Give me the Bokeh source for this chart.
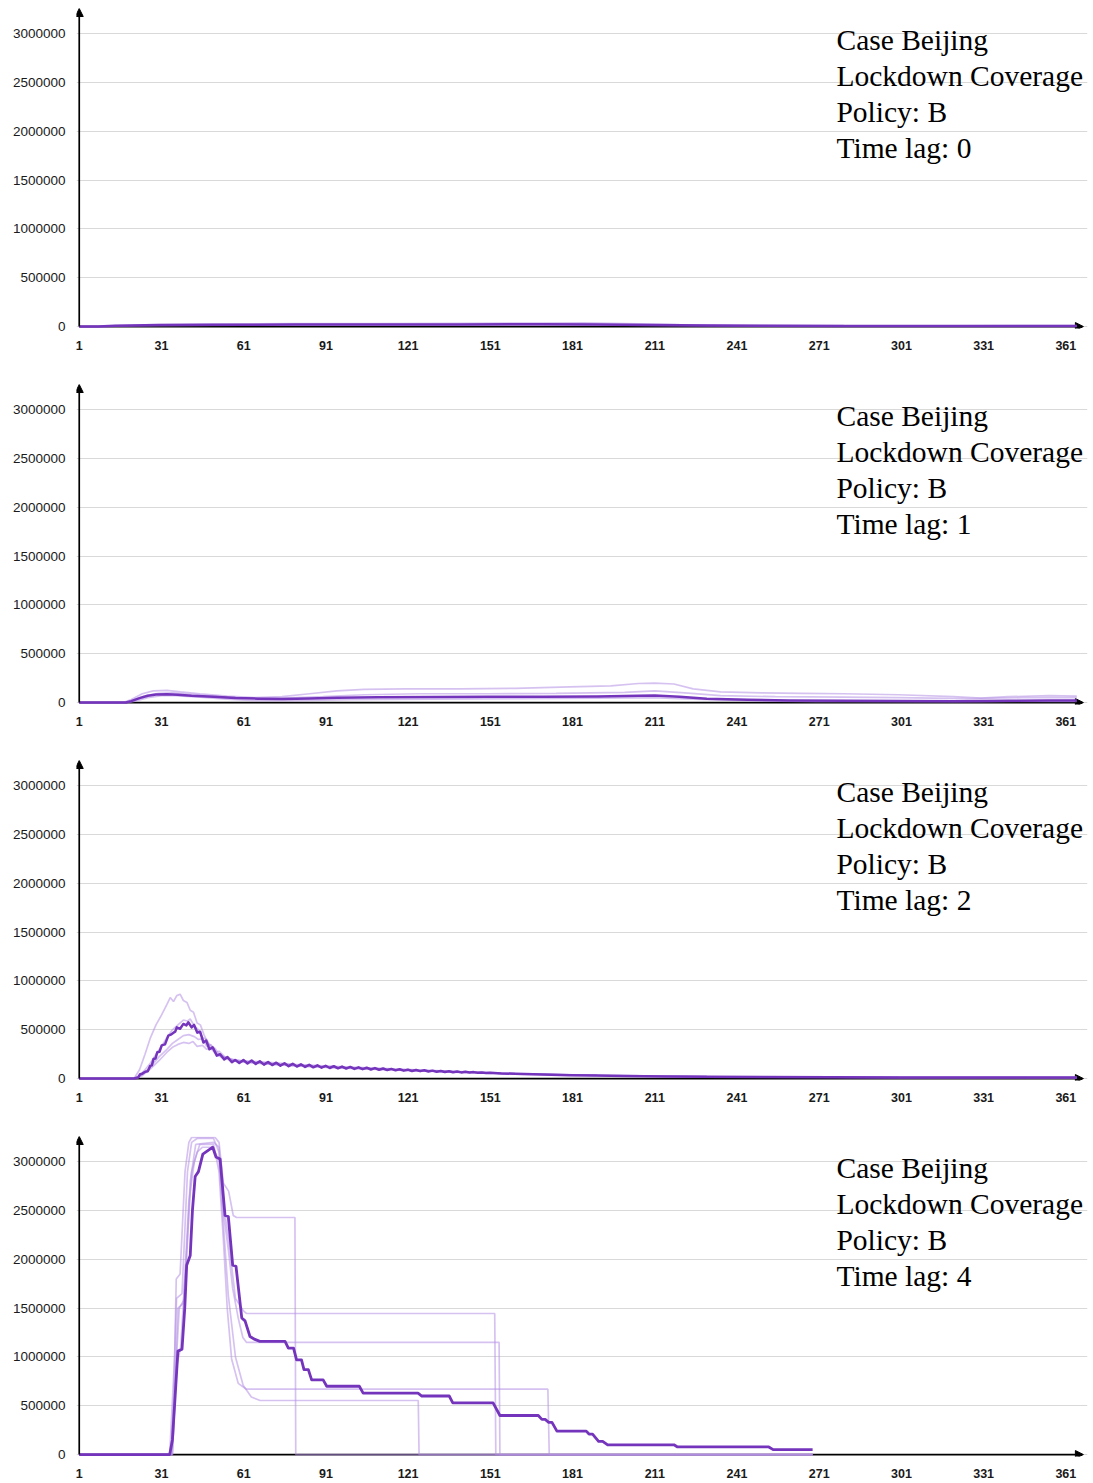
from bokeh.plotting import figure
from bokeh.layouts import column
from bokeh.models import Range1d, FixedTicker, BasicTickFormatter, Arrow, NormalHead, Label
from bokeh.embed import file_html
from bokeh.resources import INLINE

# ---------------- data ----------------
X_TICKS = [1, 31, 61, 91, 121, 151, 181, 211, 241, 271, 301, 331, 361]
Y_TICKS = [0, 500000, 1000000, 1500000, 2000000, 2500000, 3000000]
LABEL_LINES = ["Case Beijing", "Lockdown Coverage", "Policy: B"]
TIME_LAGS = [0, 1, 2, 4]

# Panel 1 (time lag 0)
p1_mean_day = [1, 8, 14, 20, 30, 50, 80, 110, 140, 170, 190, 210, 230, 250, 280, 320, 365]
p1_mean_val = [0, 0, 8000, 12000, 15000, 18000, 20000, 20000, 22000, 24000, 22000, 16000, 10000, 7000, 5000, 5000, 5000]
p1_run1_day = [1, 8, 15, 25, 50, 80, 110, 140, 170, 185, 200, 220, 245, 280, 320, 365]
p1_run1_val = [0, 0, 10000, 18000, 24000, 30000, 30000, 32000, 36000, 38000, 30000, 20000, 12000, 9000, 8000, 9000]
p1_run2_day = [1, 9, 16, 30, 60, 100, 140, 180, 210, 240, 280, 320, 365]
p1_run2_val = [0, 0, 6000, 10000, 14000, 15000, 17000, 18000, 12000, 6000, 4000, 3000, 3000]

# Panel 2 (time lag 1)
p2_mean_day = [1, 18, 20, 23, 26, 29, 33, 37, 42, 50, 58, 66, 75, 85, 95, 110, 130, 150, 170, 190,
               205, 211, 220, 230, 245, 260, 280, 300, 320, 340, 355, 365]
p2_mean_val = [0, 0, 15000, 45000, 70000, 82000, 85000, 80000, 70000, 60000, 47000, 40000, 37000, 42000,
               48000, 55000, 58000, 60000, 60000, 63000, 70000, 72000, 60000, 40000, 28000, 22000, 18000,
               15000, 14000, 18000, 22000, 20000]
p2_run1_day = [1, 17, 20, 24, 28, 33, 38, 45, 55, 65, 75, 85, 95, 105, 120, 140, 160, 180, 195, 205,
               211, 218, 225, 235, 250, 265, 280, 300, 320, 330, 340, 355, 365]
p2_run1_val = [0, 0, 30000, 90000, 120000, 125000, 110000, 90000, 65000, 50000, 60000, 90000, 120000,
               135000, 140000, 140000, 145000, 160000, 170000, 195000, 200000, 190000, 140000, 110000,
               100000, 95000, 90000, 80000, 60000, 45000, 60000, 70000, 65000]
p2_run2_day = [1, 18, 21, 25, 30, 35, 42, 52, 62, 75, 90, 105, 125, 150, 175, 200, 211, 222, 235, 255,
               280, 300, 325, 345, 365]
p2_run2_val = [0, 0, 30000, 70000, 95000, 100000, 85000, 60000, 45000, 45000, 60000, 80000, 90000, 90000,
               95000, 105000, 120000, 100000, 70000, 60000, 55000, 50000, 40000, 50000, 50000]
p2_run3_day = [1, 19, 22, 26, 31, 36, 45, 55, 65, 80, 100, 130, 160, 190, 210, 225, 245, 270, 300, 330, 365]
p2_run3_val = [0, 0, 20000, 50000, 70000, 70000, 55000, 35000, 20000, 20000, 30000, 35000, 40000, 45000,
               50000, 35000, 20000, 10000, 8000, 10000, 12000]

# Panel 3 (time lag 2)
p3_mean_day = [1, 21, 22.5, 23.2, 24.0, 25.1, 26.0, 26.9, 27.5, 28.1, 28.8, 29.5, 30.3, 31.1, 32.3, 33.5,
               34.4, 35.4, 36.0, 36.6, 37.8, 39.0, 40.1, 40.8, 42.0, 42.9, 44.1, 45.1, 46.3, 47.3, 48.5,
               49.7, 51.2, 52.4, 53.9, 55.1, 56.7, 57.9,
               59.4, 60.9, 62.4, 63.9, 65.4, 66.9, 68.4, 69.9, 71.4, 72.9, 74.4, 75.9, 77.4, 78.9, 80.4,
               81.9, 83.4, 84.9, 86.4, 87.9, 89.4, 90.9, 92.4, 93.9, 95.4, 96.9, 98.4, 99.9, 101.4, 102.9,
               104.4, 105.9, 107.4, 108.9, 110.4, 111.9, 113.4, 114.9, 116.4, 117.9, 119.4, 120.9, 122.4,
               123.9, 125.4, 126.9, 128.4, 129.9, 131.4, 132.9, 134.4, 135.9, 137.4, 138.9, 140.4, 141.9,
               143.4, 144.9, 146.4, 147.9, 149.4, 150.9,
               155, 160, 170, 180, 190, 200, 215, 230, 250, 275, 300, 330, 365]
p3_mean_val = [0, 0, 10000, 45000, 50000, 70000, 75000, 130000, 135000, 200000, 205000, 270000, 275000,
               340000, 350000, 440000, 450000, 470000, 480000, 525000, 510000, 560000, 545000, 577000,
               525000, 550000, 470000, 480000, 370000, 390000, 300000, 320000, 235000, 250000, 195000,
               220000, 167000, 190000,
               160000, 190000, 155000, 185000, 150000, 178000, 143000, 170000, 138000, 163000, 132000,
               157000, 127000, 151000, 123000, 146000, 119000, 141000, 115000, 136000, 111000, 131000,
               108000, 127000, 105000, 123000, 102000, 119000, 99000, 115000, 96000, 111000, 93000, 107000,
               90000, 103000, 87000, 99000, 84000, 95000, 81000, 91000, 78000, 88000, 76000, 85000, 73000,
               81000, 70000, 78000, 68000, 75000, 65000, 72000, 63000, 69000, 61000, 66000, 59000, 63000,
               57000, 60000,
               53000, 48000, 41000, 35000, 30000, 26000, 21000, 18000, 16000, 14000, 12000, 11000, 10000]
p3_run1_day = [1, 21, 23, 25, 27, 29, 31, 33, 34.2, 35.4, 36.6, 37.8, 39, 40.3, 41.5, 42.7, 44, 45.2, 46.5,
               48, 49.5, 51, 53, 56, 60, 70, 80, 90, 100, 120, 140, 160, 190, 230, 300, 365]
p3_run1_val = [0, 0, 90000, 250000, 420000, 550000, 650000, 760000, 830000, 790000, 850000, 865000, 800000,
               780000, 700000, 680000, 570000, 550000, 450000, 360000, 330000, 260000, 230000, 200000,
               185000, 165000, 145000, 130000, 118000, 94000, 72000, 52000, 34000, 20000, 13000, 11000]
p3_run2_day = [1, 21, 23, 25, 27, 29, 31, 33, 35, 37, 39, 40.5, 41.5, 43, 44.5, 46, 47.5, 49, 50.5, 52, 54,
               57, 60, 70, 80, 90, 100, 120, 140, 160, 190, 230, 300, 365]
p3_run2_val = [0, 0, 30000, 90000, 160000, 250000, 330000, 420000, 500000, 550000, 600000, 590000, 610000,
               540000, 500000, 420000, 400000, 320000, 310000, 250000, 220000, 190000, 175000, 150000,
               132000, 118000, 107000, 86000, 67000, 49000, 31000, 19000, 12000, 10000]
p3_run3_day = [1, 21, 24, 27, 30, 33, 35, 37, 39, 41, 43, 44.5, 46, 47.5, 49, 50.5, 52, 54, 57, 60, 70, 80,
               90, 100, 120, 140, 160, 190, 230, 300, 365]
p3_run3_val = [0, 0, 40000, 120000, 220000, 300000, 360000, 400000, 440000, 450000, 430000, 400000, 410000,
               330000, 350000, 270000, 280000, 225000, 195000, 178000, 155000, 138000, 124000, 112000,
               90000, 69000, 50000, 32000, 19000, 12000, 10000]
p3_run4_day = [1, 21, 24, 27, 30, 33, 35, 37, 39, 41, 42.5, 44, 46, 47.5, 49, 51, 53, 56, 60, 70, 80, 90,
               100, 120, 140, 160, 190, 230, 300, 365]
p3_run4_val = [0, 0, 30000, 100000, 180000, 270000, 320000, 350000, 370000, 360000, 380000, 330000, 340000,
               300000, 310000, 250000, 215000, 190000, 170000, 148000, 130000, 116000, 104000, 83000,
               63000, 46000, 29000, 17000, 11000, 9000]

# Panel 4 (time lag 4)
p4_mean_day = [1, 34, 35, 36, 37, 38.5, 39.5, 40.2, 41.5, 42.3, 43.3, 44.5, 46.1, 48.7, 49.7, 50.9, 52.4,
               54.2, 55.4, 57.0, 58.2, 60.3, 61.5, 63.3, 65.1, 66.9, 76.1, 77.3, 79.2, 80.3, 82.1, 83.0,
               84.6, 85.8, 90.0, 91.3, 103.2, 104.6, 124.6, 126.0, 136.0, 137.3, 152.0, 154.5, 168.5,
               169.8, 171.0, 172.3, 173.5, 175.3, 186.0, 187.0, 188.3, 190.5, 192.0, 193.8, 218.0, 219.3,
               252.6, 254.2, 268.6]
p4_mean_val = [0, 0, 150000, 600000, 1060000, 1080000, 1500000, 1940000, 2040000, 2500000, 2850000,
               2900000, 3080000, 3130000, 3150000, 3050000, 3030000, 2450000, 2440000, 1940000, 1930000,
               1400000, 1370000, 1210000, 1180000, 1160000, 1160000, 1090000, 1090000, 970000, 970000,
               870000, 870000, 765000, 765000, 700000, 700000, 630000, 630000, 600000, 600000, 530000,
               530000, 400000, 400000, 360000, 360000, 330000, 330000, 240000, 240000, 210000, 210000,
               136000, 136000, 100000, 100000, 78000, 78000, 50000, 50000]
p4_run1_day = [1, 34.5, 35.5, 36.4, 37.8, 39.6, 41.0, 42.0, 50.6, 52.0, 53.6, 55.5, 57.2, 58.4, 79.7, 80.0, 268.6]
p4_run1_val = [0, 0, 600000, 1800000, 1850000, 2900000, 3200000, 3250000, 3250000, 3200000, 2780000,
               2700000, 2450000, 2430000, 2430000, 0, 0]
p4_run2_day = [1, 34.0, 35.8, 36.5, 38.5, 40.5, 42.0, 44.0, 50.0, 52.0, 53.5, 55.5, 58.0, 61.0, 62.0, 152.6, 153.0, 268.6]
p4_run2_val = [0, 0, 1000000, 1600000, 1650000, 2900000, 3200000, 3240000, 3240000, 3100000, 2600000,
               2200000, 1600000, 1470000, 1446000, 1446000, 0, 0]
p4_run3_day = [1, 35.0, 36.5, 37.5, 39.5, 41.5, 43.5, 50.0, 52.0, 53.5, 55.4, 57.0, 59.0, 60.7, 62.0, 154.2, 154.5, 268.6]
p4_run3_val = [0, 0, 1000000, 1500000, 1600000, 2800000, 3180000, 3200000, 3150000, 2500000, 2100000,
               1700000, 1400000, 1200000, 1150000, 1150000, 0, 0]
p4_run4_day = [1, 34.5, 36.0, 37.0, 39.0, 41.0, 43.0, 45.0, 50.0, 52.0, 53.6, 55.0, 56.6, 59.0, 62.0, 172.0, 172.5, 268.6]
p4_run4_val = [0, 0, 800000, 1500000, 1550000, 2600000, 3000000, 3180000, 3180000, 2900000, 2200000,
               1500000, 980000, 730000, 670000, 670000, 0, 0]
p4_run5_day = [1, 35.0, 36.5, 38.0, 40.0, 42.0, 44.0, 46.0, 50.0, 52.0, 53.5, 55.4, 58.0, 60.8, 63.8, 67.0, 124.7, 125.0, 268.6]
p4_run5_val = [0, 0, 900000, 1100000, 2000000, 2900000, 3100000, 3150000, 3150000, 3000000, 2400000,
               1630000, 1000000, 710000, 590000, 554000, 554000, 0, 0]

PANELS = [
    ([(p1_run1_day, p1_run1_val), (p1_run2_day, p1_run2_val)], (p1_mean_day, p1_mean_val)),
    ([(p2_run1_day, p2_run1_val), (p2_run2_day, p2_run2_val), (p2_run3_day, p2_run3_val)], (p2_mean_day, p2_mean_val)),
    ([(p3_run1_day, p3_run1_val), (p3_run2_day, p3_run2_val), (p3_run3_day, p3_run3_val), (p3_run4_day, p3_run4_val)], (p3_mean_day, p3_mean_val)),
    ([(p4_run1_day, p4_run1_val), (p4_run2_day, p4_run2_val), (p4_run3_day, p4_run3_val), (p4_run4_day, p4_run4_val), (p4_run5_day, p4_run5_val)], (p4_mean_day, p4_mean_val)),
]

# ---------------- style / layout ----------------
DARK = "#7434BC"
LIGHT = "#B58FE3"
X_END = 368.9          # frame right edge (data units)
X_ARROW = 367.4        # tip of the x-axis arrow
Y_START, Y_END = -20000, 3260000
TEXT_X = 277.3
TEXT_Y = [2940000, 2570000, 2200000, 1830000]
FRAME_H = 320
TOPS = [8, 20, 20, 20]
BOTTOMS = [36, 36, 36, 27]


def make_panel(idx, lag, runs, mean):
    top, bottom = TOPS[idx], BOTTOMS[idx]
    p = figure(width=1091, height=top + FRAME_H + bottom, output_backend="svg", toolbar_location=None,
               x_range=Range1d(0, X_END), y_range=Range1d(Y_START, Y_END),
               min_border_left=76, min_border_right=4, min_border_top=top, min_border_bottom=bottom)
    p.outline_line_color = None
    p.background_fill_color = "white"
    p.xgrid.visible = False
    p.ygrid.ticker = FixedTicker(ticks=Y_TICKS)
    p.ygrid.grid_line_color = "#d9d9d9"
    p.ygrid.grid_line_width = 1
    p.xaxis.ticker = FixedTicker(ticks=X_TICKS)
    p.yaxis.ticker = FixedTicker(ticks=Y_TICKS)
    p.yaxis.formatter = BasicTickFormatter(use_scientific=False)
    for ax in (p.xaxis[0], p.yaxis[0]):
        ax.axis_line_color = None
        ax.major_tick_line_color = None
        ax.minor_tick_line_color = None
        ax.major_tick_out = 0
        ax.major_tick_in = 0
        ax.major_label_text_font = "Liberation Sans"
        ax.major_label_text_color = "#1a1a1a"
    p.xaxis.major_label_text_font_size = "12.5px"
    p.xaxis.major_label_text_font_style = "bold"
    p.xaxis.major_label_standoff = 12
    p.yaxis.major_label_text_font_size = "13.5px"
    p.yaxis.major_label_standoff = 11

    # x axis line with arrow, drawn beneath the data lines
    p.add_layout(Arrow(end=NormalHead(size=8, fill_color="black", line_color="black"),
                       x_start=1, y_start=0, x_end=X_ARROW, y_end=0,
                       line_color="black", line_width=1.7, level="underlay"))

    for d, v in runs:
        assert len(d) == len(v)
        p.line(d, v, line_color=LIGHT, line_alpha=0.55, line_width=1.7)
    md, mv = mean
    assert len(md) == len(mv)
    p.line(md, mv, line_color=DARK, line_width=2.8 if lag == 4 else 2.5, line_join="round")

    # y axis line with arrow
    p.add_layout(Arrow(end=NormalHead(size=8, fill_color="black", line_color="black"),
                       x_start=1, y_start=0, x_end=1, y_end=Y_END,
                       line_color="black", line_width=1.7))

    texts = LABEL_LINES + ["Time lag: %d" % lag]
    for t, y in zip(texts, TEXT_Y):
        p.add_layout(Label(x=TEXT_X, y=y, text=t, text_font="Liberation Serif",
                           text_font_size="29.5px", text_baseline="middle", text_color="black"))
    return p


figs = [make_panel(i, lag, runs, mean) for i, (lag, (runs, mean)) in enumerate(zip(TIME_LAGS, PANELS))]
layout = column(*figs, spacing=0)
open("out.html", "w").write(file_html(layout, INLINE))
